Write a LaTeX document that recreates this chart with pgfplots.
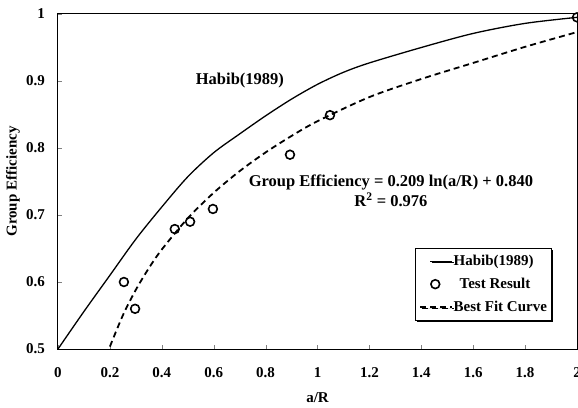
\documentclass[border=0pt]{standalone}
\usepackage{pgfplots}
\pgfplotsset{compat=1.18}
\usepackage{fontspec}
\setmainfont{Liberation Serif}
\usetikzlibrary{shadows}

\pgfplotsset{
  shortline/.style={legend image code/.code={\draw[##1] (10pt,0pt) -- (32pt,0pt);}},
  longline/.style={legend image code/.code={\draw[##1] (0pt,0pt) -- (32pt,0pt);}},
  dotlegend/.style={legend image code/.code={\draw[##1] plot coordinates {(15pt,0pt)};}},
}

\begin{document}
\begin{tikzpicture}
\begin{axis}[
  scale only axis,
  width=519pt, height=335pt,
  xmin=0, xmax=2, ymin=0.5, ymax=1,
  xtick={0,0.2,0.4,0.6,0.8,1,1.2,1.4,1.6,1.8,2},
  ytick={0.5,0.6,0.7,0.8,0.9,1},
  xtick pos=bottom, ytick pos=left,
  tick align=inside,
  major tick length=4pt,
  axis line style={line width=1pt},
  /pgf/number format/assume math mode=true,
  tick label style={font=\bfseries\fontsize{15}{17}\selectfont, inner sep=0pt},
  xticklabel style={anchor=base, yshift=-28pt},
  yticklabel style={anchor=east, xshift=-13pt},
  xlabel={\bfseries a/R},
  label style={font=\bfseries\fontsize{15}{17}\selectfont, inner sep=0pt},
  xlabel style={at={(axis description cs:0.5,0)}, anchor=base, yshift=-53pt},
  legend cell align=left,
  legend style={
    at={(0.688,0.3015)}, anchor=north west,
    draw=black, line width=0.6pt, fill=white,
    drop shadow={shadow xshift=1.5pt, shadow yshift=-1.5pt, fill=black, opacity=1},
    font=\bfseries\fontsize{15}{17}\selectfont,
    row sep=7pt, inner xsep=4pt, inner ysep=5pt,
    nodes={inner xsep=0.5pt},
  },
]
% Habib (1989) reference curve
\addplot[black, line width=1.3pt, smooth, shortline] coordinates {
  (0,0.5) (0.1,0.556) (0.2,0.61) (0.3,0.664) (0.4,0.712) (0.5,0.757)
  (0.6,0.793) (0.7,0.821) (0.8,0.848) (0.9,0.873) (1.0,0.895) (1.1,0.913)
  (1.2,0.927) (1.4,0.950) (1.6,0.971) (1.8,0.986) (2.0,0.995)
};
\addlegendentry{Habib(1989)}

% measured group efficiencies
\addplot[only marks, mark=o, mark size=4.4pt, mark options={line width=1.6pt}, black, dotlegend]
  coordinates {
  (0.254,0.600) (0.297,0.560) (0.45,0.679) (0.509,0.690)
  (0.597,0.709) (0.894,0.790) (1.048,0.849) (2.0,0.995)
};
\addlegendentry{\hspace{6pt}Test Result}

% logarithmic best fit curve
\addplot[black, line width=1.8pt, dash pattern=on 6pt off 4pt, smooth, longline] coordinates {
  (0.2,0.5036) (0.25,0.5503) (0.3,0.5884) (0.35,0.6206) (0.4,0.6485)
  (0.5,0.6951) (0.6,0.7332) (0.7,0.7655) (0.8,0.7934) (0.9,0.8180)
  (1.0,0.8400) (1.2,0.876) (1.4,0.903) (1.6,0.927) (1.8,0.951) (2.0,0.973)
};
\addlegendentry{Best Fit Curve}

\node[font=\bfseries\fontsize{16.5}{19}\selectfont] at (axis cs:0.701,0.900) {Habib(1989)};
\node[font=\bfseries\fontsize{16.5}{20}\selectfont, align=center] at (axis cs:1.283,0.736)
  {Group Efficiency = 0.209 ln(a/R) + 0.840\\R$^{\mathbf{2}}$ = 0.976};
\end{axis}
% y-axis title
\node[rotate=90, font=\bfseries\fontsize{15}{17}\selectfont, inner sep=0pt]
  at ([xshift=-45pt]current axis.west) {Group Efficiency};
\pgfresetboundingbox
\path[use as bounding box] ([xshift=-58pt,yshift=-58pt]current axis.south west)
  rectangle ([xshift=1pt,yshift=14pt]current axis.north east);
\end{tikzpicture}
\end{document}
